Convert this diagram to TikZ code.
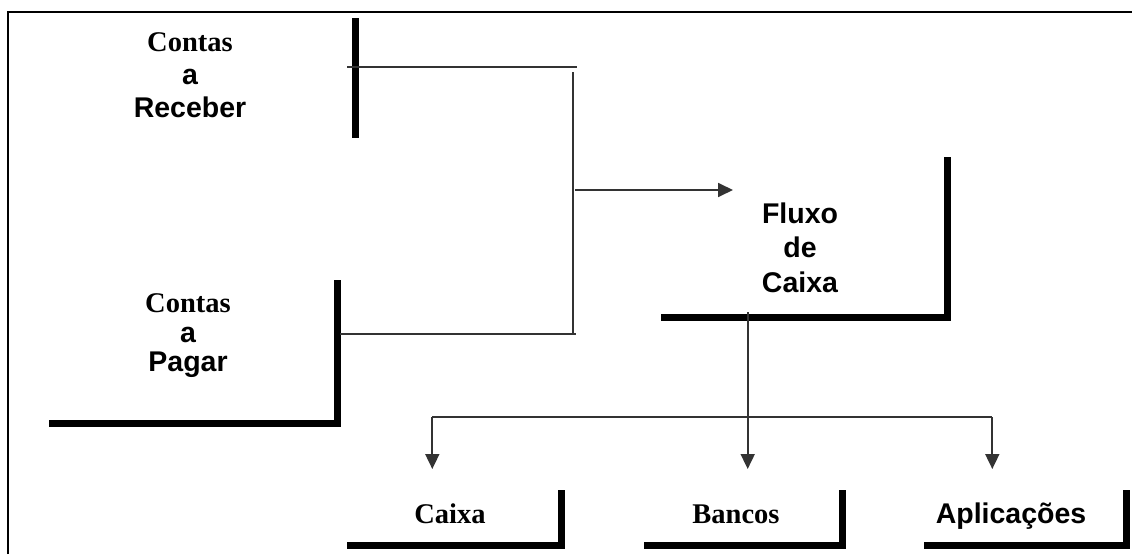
\documentclass[tikz,border=0pt]{standalone}
\usepackage{fontspec}
\setmainfont{Liberation Serif}
\newfontfamily\arialf{Liberation Sans}
\usetikzlibrary{arrows.meta}

\tikzset{
  bar/.style={line width=7pt, line join=miter, line cap=rect},
  wire/.style={line width=1.8pt, draw=black!80},
  arrowwire/.style={wire, -{Triangle[length=15pt,width=14pt]}},
  label/.style={inner sep=0pt, align=center, font=\bfseries\fontsize{28.5}{33}\selectfont},
  serif/.style={font=\bfseries\fontsize{28.5}{33}\selectfont\rmfamily},
  sans/.style={font=\bfseries\fontsize{28.5}{33}\selectfont\arialf}
}

\begin{document}
\begin{tikzpicture}[x=1pt, y=-1pt]
  \useasboundingbox (0,0) rectangle (1132,554);

  % frame (top and left edges)
  \draw[line width=2pt] (8,554) -- (8,12) -- (1132,12);

  % text blocks
  \node[label] (receber) at (190,75.5)
    {{\rmfamily Contas}\\{\arialf a}\\{\arialf Receber}};
  \node[label, execute at begin node={\fontsize{28.5}{29.5}\selectfont}] (pagar) at (188,336)
    {{\rmfamily Contas}\\{\arialf a}\\{\arialf Pagar}};
  \node[label, execute at begin node={\fontsize{28.5}{34.5}\selectfont}] (fluxo) at (800,247.5)
    {{\arialf Fluxo}\\{\arialf de}\\{\arialf Caixa}};
  \node[serif, inner sep=0pt, anchor=base] (caixa) at (450,523) {Caixa};
  \node[serif, inner sep=0pt, anchor=base] (bancos) at (736,523) {Bancos};
  \node[sans, inner sep=0pt, anchor=base] (aplic) at (1011,523) {Aplicações};

  % heavy corner strokes
  \draw[bar] (355,21) -- (355,134);
  \draw[bar] (52,423) -- (337,423) -- (337,283);
  \draw[bar] (664,317.5) -- (947,317.5) -- (947,160);
  \draw[bar] (350,545) -- (561.5,545) -- (561.5,493);
  \draw[bar] (647,545) -- (842,545) -- (842,493);
  \draw[bar] (927,545) -- (1126.5,545) -- (1126.5,493);

  % attachment points
  \coordinate (recOut) at (347,67.3);
  \coordinate (pagOut) at (340,334);
  \coordinate (joinTop) at (576.5,67.3);
  \coordinate (joinBot) at (576,334);
  \coordinate (busTop) at (572.7,72);
  \coordinate (busBot) at (572.7,335);
  \coordinate (busOut) at (575,190);
  \coordinate (fluxoIn) at (733,190);
  \coordinate (fluxoOut) at (747.7,312);
  \coordinate (caixaIn) at (432.3,469);
  \coordinate (bancosIn) at (747.7,469);
  \coordinate (aplicIn) at (992.3,469);

  % merge of the two sources
  \draw[wire] (recOut) -- (joinTop);
  \draw[wire] (pagOut) -- (joinBot);
  \draw[wire] (busTop) -- (busBot);
  \draw[arrowwire] (busOut) -- (fluxoIn);

  % distribution
  \draw[arrowwire] (fluxoOut) -- (bancosIn);
  \draw[arrowwire] (caixaIn |- 0,417.3) -- (caixaIn);
  \draw[arrowwire] (aplicIn |- 0,417.3) -- (aplicIn);
  \draw[wire] (caixaIn |- 0,417.3) -- (aplicIn |- 0,417.3);
\end{tikzpicture}
\end{document}
